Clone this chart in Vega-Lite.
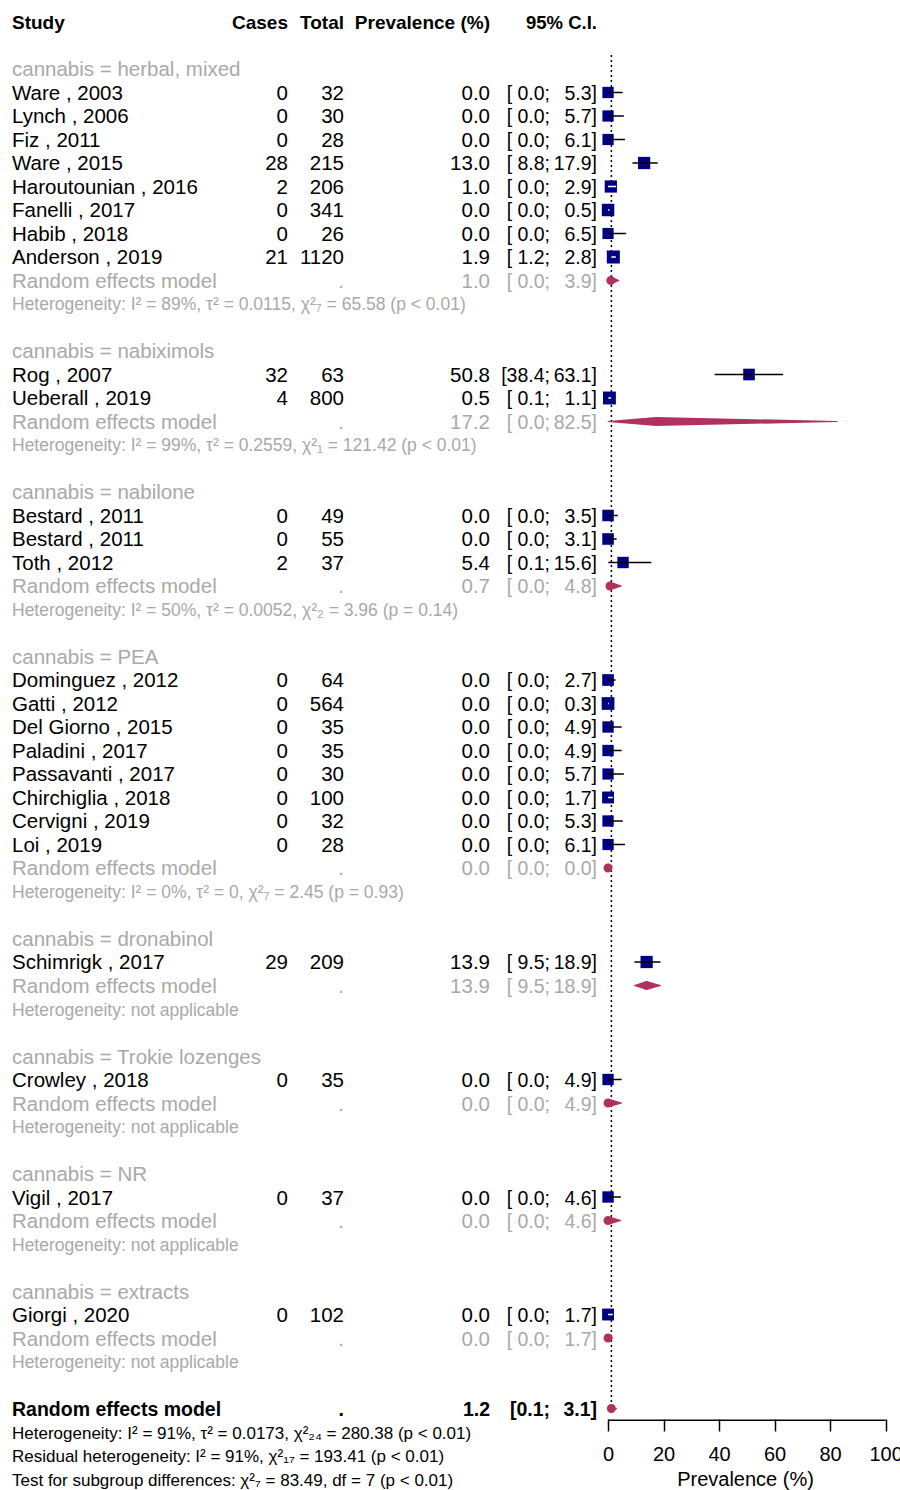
{
  "$schema": "https://vega.github.io/schema/vega-lite/v6.json",
  "width": 900,
  "height": 1490,
  "autosize": "none",
  "padding": 0,
  "background": "white",
  "config": {"view": {"stroke": null}, "font": "Liberation Sans"},
  "datasets": {
    "rows": [
      {"row": 2, "type": "group", "label": "cannabis = herbal, mixed"},
      {"row": 3, "type": "study", "label": "Ware , 2003", "cases": 0, "total": 32, "prev": 0.0, "lo": 0.0, "hi": 5.3, "cil": "[ 0.0;", "ciu": "5.3]"},
      {"row": 4, "type": "study", "label": "Lynch , 2006", "cases": 0, "total": 30, "prev": 0.0, "lo": 0.0, "hi": 5.7, "cil": "[ 0.0;", "ciu": "5.7]"},
      {"row": 5, "type": "study", "label": "Fiz , 2011", "cases": 0, "total": 28, "prev": 0.0, "lo": 0.0, "hi": 6.1, "cil": "[ 0.0;", "ciu": "6.1]"},
      {"row": 6, "type": "study", "label": "Ware , 2015", "cases": 28, "total": 215, "prev": 13.0, "lo": 8.8, "hi": 17.9, "cil": "[ 8.8;", "ciu": "17.9]"},
      {"row": 7, "type": "study", "label": "Haroutounian , 2016", "cases": 2, "total": 206, "prev": 1.0, "lo": 0.0, "hi": 2.9, "cil": "[ 0.0;", "ciu": "2.9]"},
      {"row": 8, "type": "study", "label": "Fanelli , 2017", "cases": 0, "total": 341, "prev": 0.0, "lo": 0.0, "hi": 0.5, "cil": "[ 0.0;", "ciu": "0.5]"},
      {"row": 9, "type": "study", "label": "Habib , 2018", "cases": 0, "total": 26, "prev": 0.0, "lo": 0.0, "hi": 6.5, "cil": "[ 0.0;", "ciu": "6.5]"},
      {"row": 10, "type": "study", "label": "Anderson , 2019", "cases": 21, "total": 1120, "prev": 1.9, "lo": 1.2, "hi": 2.8, "cil": "[ 1.2;", "ciu": "2.8]"},
      {"row": 11, "type": "model", "label": "Random effects model", "total": ".", "prev": 1.0, "lo": 0.0, "hi": 3.9, "cil": "[ 0.0;", "ciu": "3.9]"},
      {"row": 12, "type": "het", "label": "Heterogeneity: I² = 89%, τ² = 0.0115, χ²₇ = 65.58 (p < 0.01)"},
      {"row": 14, "type": "group", "label": "cannabis = nabiximols"},
      {"row": 15, "type": "study", "label": "Rog , 2007", "cases": 32, "total": 63, "prev": 50.8, "lo": 38.4, "hi": 63.1, "cil": "[38.4;", "ciu": "63.1]"},
      {"row": 16, "type": "study", "label": "Ueberall , 2019", "cases": 4, "total": 800, "prev": 0.5, "lo": 0.1, "hi": 1.1, "cil": "[ 0.1;", "ciu": "1.1]"},
      {"row": 17, "type": "model", "label": "Random effects model", "total": ".", "prev": 17.2, "lo": 0.0, "hi": 82.5, "cil": "[ 0.0;", "ciu": "82.5]"},
      {"row": 18, "type": "het", "label": "Heterogeneity: I² = 99%, τ² = 0.2559, χ²₁ = 121.42 (p < 0.01)"},
      {"row": 20, "type": "group", "label": "cannabis = nabilone"},
      {"row": 21, "type": "study", "label": "Bestard , 2011", "cases": 0, "total": 49, "prev": 0.0, "lo": 0.0, "hi": 3.5, "cil": "[ 0.0;", "ciu": "3.5]"},
      {"row": 22, "type": "study", "label": "Bestard , 2011", "cases": 0, "total": 55, "prev": 0.0, "lo": 0.0, "hi": 3.1, "cil": "[ 0.0;", "ciu": "3.1]"},
      {"row": 23, "type": "study", "label": "Toth , 2012", "cases": 2, "total": 37, "prev": 5.4, "lo": 0.1, "hi": 15.6, "cil": "[ 0.1;", "ciu": "15.6]"},
      {"row": 24, "type": "model", "label": "Random effects model", "total": ".", "prev": 0.7, "lo": 0.0, "hi": 4.8, "cil": "[ 0.0;", "ciu": "4.8]"},
      {"row": 25, "type": "het", "label": "Heterogeneity: I² = 50%, τ² = 0.0052, χ²₂ = 3.96 (p = 0.14)"},
      {"row": 27, "type": "group", "label": "cannabis = PEA"},
      {"row": 28, "type": "study", "label": "Dominguez , 2012", "cases": 0, "total": 64, "prev": 0.0, "lo": 0.0, "hi": 2.7, "cil": "[ 0.0;", "ciu": "2.7]"},
      {"row": 29, "type": "study", "label": "Gatti , 2012", "cases": 0, "total": 564, "prev": 0.0, "lo": 0.0, "hi": 0.3, "cil": "[ 0.0;", "ciu": "0.3]"},
      {"row": 30, "type": "study", "label": "Del Giorno , 2015", "cases": 0, "total": 35, "prev": 0.0, "lo": 0.0, "hi": 4.9, "cil": "[ 0.0;", "ciu": "4.9]"},
      {"row": 31, "type": "study", "label": "Paladini , 2017", "cases": 0, "total": 35, "prev": 0.0, "lo": 0.0, "hi": 4.9, "cil": "[ 0.0;", "ciu": "4.9]"},
      {"row": 32, "type": "study", "label": "Passavanti , 2017", "cases": 0, "total": 30, "prev": 0.0, "lo": 0.0, "hi": 5.7, "cil": "[ 0.0;", "ciu": "5.7]"},
      {"row": 33, "type": "study", "label": "Chirchiglia , 2018", "cases": 0, "total": 100, "prev": 0.0, "lo": 0.0, "hi": 1.7, "cil": "[ 0.0;", "ciu": "1.7]"},
      {"row": 34, "type": "study", "label": "Cervigni , 2019", "cases": 0, "total": 32, "prev": 0.0, "lo": 0.0, "hi": 5.3, "cil": "[ 0.0;", "ciu": "5.3]"},
      {"row": 35, "type": "study", "label": "Loi , 2019", "cases": 0, "total": 28, "prev": 0.0, "lo": 0.0, "hi": 6.1, "cil": "[ 0.0;", "ciu": "6.1]"},
      {"row": 36, "type": "model", "label": "Random effects model", "total": ".", "prev": 0.0, "lo": 0.0, "hi": 0.0, "cil": "[ 0.0;", "ciu": "0.0]"},
      {"row": 37, "type": "het", "label": "Heterogeneity: I² = 0%, τ² = 0, χ²₇ = 2.45 (p = 0.93)"},
      {"row": 39, "type": "group", "label": "cannabis = dronabinol"},
      {"row": 40, "type": "study", "label": "Schimrigk , 2017", "cases": 29, "total": 209, "prev": 13.9, "lo": 9.5, "hi": 18.9, "cil": "[ 9.5;", "ciu": "18.9]"},
      {"row": 41, "type": "model", "label": "Random effects model", "total": ".", "prev": 13.9, "lo": 9.5, "hi": 18.9, "cil": "[ 9.5;", "ciu": "18.9]"},
      {"row": 42, "type": "het", "label": "Heterogeneity: not applicable"},
      {"row": 44, "type": "group", "label": "cannabis = Trokie lozenges"},
      {"row": 45, "type": "study", "label": "Crowley , 2018", "cases": 0, "total": 35, "prev": 0.0, "lo": 0.0, "hi": 4.9, "cil": "[ 0.0;", "ciu": "4.9]"},
      {"row": 46, "type": "model", "label": "Random effects model", "total": ".", "prev": 0.0, "lo": 0.0, "hi": 4.9, "cil": "[ 0.0;", "ciu": "4.9]"},
      {"row": 47, "type": "het", "label": "Heterogeneity: not applicable"},
      {"row": 49, "type": "group", "label": "cannabis = NR"},
      {"row": 50, "type": "study", "label": "Vigil , 2017", "cases": 0, "total": 37, "prev": 0.0, "lo": 0.0, "hi": 4.6, "cil": "[ 0.0;", "ciu": "4.6]"},
      {"row": 51, "type": "model", "label": "Random effects model", "total": ".", "prev": 0.0, "lo": 0.0, "hi": 4.6, "cil": "[ 0.0;", "ciu": "4.6]"},
      {"row": 52, "type": "het", "label": "Heterogeneity: not applicable"},
      {"row": 54, "type": "group", "label": "cannabis = extracts"},
      {"row": 55, "type": "study", "label": "Giorgi , 2020", "cases": 0, "total": 102, "prev": 0.0, "lo": 0.0, "hi": 1.7, "cil": "[ 0.0;", "ciu": "1.7]"},
      {"row": 56, "type": "model", "label": "Random effects model", "total": ".", "prev": 0.0, "lo": 0.0, "hi": 1.7, "cil": "[ 0.0;", "ciu": "1.7]"},
      {"row": 57, "type": "het", "label": "Heterogeneity: not applicable"},
      {"row": 59, "type": "overall", "label": "Random effects model", "total": ".", "prev": 1.2, "lo": 0.1, "hi": 3.1, "cil": "[0.1;", "ciu": "3.1]"},
      {"row": 60, "type": "foot", "label": "Heterogeneity: I² = 91%, τ² = 0.0173, χ²₂₄ = 280.38 (p < 0.01)"},
      {"row": 61, "type": "foot", "label": "Residual heterogeneity: I² = 91%, χ²₁₇ = 193.41 (p < 0.01)"},
      {"row": 62, "type": "foot", "label": "Test for subgroup differences: χ²₇ = 83.49, df = 7 (p < 0.01)"}
    ],
    "header": [
      {"row": 0, "col": "study", "t": "Study"},
      {"row": 0, "col": "cases", "t": "Cases"},
      {"row": 0, "col": "total", "t": "Total"},
      {"row": 0, "col": "prev", "t": "Prevalence (%)"},
      {"row": 0, "col": "ci", "t": "95% C.I."}
    ],
    "axisline": [{"from": 0, "to": 100, "row": 59.5}]
  },
  "data": {"name": "rows"},
  "encoding": {
    "y": {"field": "row", "type": "quantitative", "scale": {"domain": [-0.936, 62.468], "reverse": true, "nice": false, "zero": false}, "axis": null}
  },
  "layer": [
    {
      "transform": [{"filter": "datum.type === 'overall'"}],
      "mark": {"type": "rule", "strokeDash": [2, 3], "strokeWidth": 1.5, "color": "black"},
      "encoding": {
        "x": {"field": "prev", "type": "quantitative", "scale": {"domain": [-219.1, 105.2], "nice": false, "zero": false},
          "axis": {"orient": "bottom", "offset": -71, "values": [0, 20, 40, 60, 80, 100], "format": "d", "domain": false, "grid": false,
            "tickSize": 12, "tickColor": "black", "tickWidth": 1.5, "labelFontSize": 20, "labelColor": "black", "labelPadding": 13,
            "labelFlush": false, "labelOverlap": false, "labelFont": "Liberation Sans",
            "title": "Prevalence (%)", "titleFontSize": 20, "titleFontWeight": "normal", "titleColor": "black", "titleFont": "Liberation Sans",
            "titleX": 745, "titleY": 66, "titleBaseline": "alphabetic", "titleAlign": "center"}},
        "y": {"datum": 1.4},
        "y2": {"field": "row"}
      }
    },
    {
      "data": {"name": "axisline"},
      "mark": {"type": "rule", "color": "black", "strokeWidth": 1.5},
      "encoding": {
        "x": {"field": "from", "type": "quantitative"},
        "x2": {"field": "to"},
        "y": {"field": "row", "type": "quantitative"}
      }
    },
    {
      "transform": [
        {"filter": "datum.type === 'model' || datum.type === 'overall'"},
        {"fold": ["lo", "prev", "hi"], "as": ["k", "v"]}
      ],
      "mark": {"type": "trail", "color": "#B03060"},
      "encoding": {
        "x": {"field": "v", "type": "quantitative"},
        "size": {"field": "k", "type": "ordinal", "scale": {"type": "ordinal", "domain": ["lo", "prev", "hi"], "range": [0, 9, 0]}, "legend": null},
        "detail": {"field": "row", "type": "nominal"}
      }
    },
    {
      "transform": [{"filter": "datum.type === 'study'"}],
      "mark": {"type": "point", "shape": "square", "filled": true, "color": "#000080", "opacity": 1},
      "encoding": {
        "x": {"field": "prev", "type": "quantitative"},
        "size": {"field": "total", "type": "quantitative", "scale": {"type": "log", "domain": [26, 1120], "range": [125, 170]}, "legend": null}
      }
    },
    {
      "transform": [{"filter": "datum.type === 'study'"}],
      "mark": {"type": "rule", "strokeWidth": 1.5},
      "encoding": {
        "x": {"field": "lo", "type": "quantitative"},
        "x2": {"field": "hi"},
        "color": {"condition": {"test": "datum.hi - datum.prev < 2.2 && datum.prev - datum.lo < 2.2", "value": "white"}, "value": "black"}
      }
    },
    {
      "transform": [{"filter": "datum.type === 'study' || datum.type === 'group' || datum.type === 'model'"}],
      "mark": {"type": "text", "align": "left", "baseline": "middle", "dy": 1.5, "fontSize": 20.5, "x": 12},
      "encoding": {
        "text": {"field": "label", "type": "nominal"},
        "color": {"field": "type", "type": "nominal", "scale": {"domain": ["study", "group", "model", "het", "overall", "foot"], "range": ["#000000", "#A9A9A9", "#A9A9A9", "#A9A9A9", "#000000", "#000000"]}, "legend": null}
      }
    },
    {
      "transform": [{"filter": "datum.type === 'study'"}],
      "mark": {"type": "text", "align": "right", "baseline": "middle", "dy": 1.5, "fontSize": 20.5, "x": 288, "color": "black"},
      "encoding": {"text": {"field": "cases", "type": "nominal"}}
    },
    {
      "transform": [{"filter": "datum.type === 'study' || datum.type === 'model'"}],
      "mark": {"type": "text", "align": "right", "baseline": "middle", "dy": 1.5, "fontSize": 20.5, "x": 344},
      "encoding": {
        "text": {"field": "total", "type": "nominal"},
        "color": {"field": "type", "type": "nominal", "legend": null}
      }
    },
    {
      "transform": [{"filter": "datum.type === 'study' || datum.type === 'model'"}],
      "mark": {"type": "text", "align": "right", "baseline": "middle", "dy": 1.5, "fontSize": 20.5, "x": 490},
      "encoding": {
        "text": {"field": "prev", "type": "quantitative", "format": ".1f"},
        "color": {"field": "type", "type": "nominal", "legend": null}
      }
    },
    {
      "transform": [{"filter": "datum.type === 'study' || datum.type === 'model'"}],
      "mark": {"type": "text", "align": "right", "baseline": "middle", "dy": 1.5, "fontSize": 19.5, "x": 550},
      "encoding": {
        "text": {"field": "cil", "type": "nominal"},
        "color": {"field": "type", "type": "nominal", "legend": null}
      }
    },
    {
      "transform": [{"filter": "datum.type === 'study' || datum.type === 'model'"}],
      "mark": {"type": "text", "align": "right", "baseline": "middle", "dy": 1.5, "fontSize": 19.5, "x": 597},
      "encoding": {
        "text": {"field": "ciu", "type": "nominal"},
        "color": {"field": "type", "type": "nominal", "legend": null}
      }
    },
    {
      "transform": [{"filter": "datum.type === 'het'"}],
      "mark": {"type": "text", "align": "left", "baseline": "middle", "dy": 1.5, "fontSize": 17.5, "x": 12},
      "encoding": {
        "text": {"field": "label", "type": "nominal"},
        "color": {"field": "type", "type": "nominal", "legend": null}
      }
    },
    {
      "transform": [{"filter": "datum.type === 'foot'"}],
      "mark": {"type": "text", "align": "left", "baseline": "middle", "dy": 1.5, "fontSize": 17, "x": 12},
      "encoding": {
        "text": {"field": "label", "type": "nominal"},
        "color": {"field": "type", "type": "nominal", "legend": null}
      }
    },
    {
      "transform": [{"filter": "datum.type === 'overall'"}],
      "mark": {"type": "text", "align": "left", "baseline": "middle", "dy": 1.5, "fontSize": 19.5, "fontWeight": "bold", "x": 12, "color": "black"},
      "encoding": {"text": {"field": "label", "type": "nominal"}}
    },
    {
      "transform": [{"filter": "datum.type === 'overall'"}],
      "mark": {"type": "text", "align": "right", "baseline": "middle", "dy": 1.5, "fontSize": 19.5, "fontWeight": "bold", "x": 344, "color": "black"},
      "encoding": {"text": {"field": "total", "type": "nominal"}}
    },
    {
      "transform": [{"filter": "datum.type === 'overall'"}],
      "mark": {"type": "text", "align": "right", "baseline": "middle", "dy": 1.5, "fontSize": 19.5, "fontWeight": "bold", "x": 490, "color": "black"},
      "encoding": {"text": {"field": "prev", "type": "quantitative", "format": ".1f"}}
    },
    {
      "transform": [{"filter": "datum.type === 'overall'"}],
      "mark": {"type": "text", "align": "right", "baseline": "middle", "dy": 1.5, "fontSize": 19.5, "fontWeight": "bold", "x": 550, "color": "black"},
      "encoding": {"text": {"field": "cil", "type": "nominal"}}
    },
    {
      "transform": [{"filter": "datum.type === 'overall'"}],
      "mark": {"type": "text", "align": "right", "baseline": "middle", "dy": 1.5, "fontSize": 19.5, "fontWeight": "bold", "x": 597, "color": "black"},
      "encoding": {"text": {"field": "ciu", "type": "nominal"}}
    },
    {
      "data": {"name": "header"},
      "transform": [{"filter": "datum.col === 'study'"}],
      "mark": {"type": "text", "align": "left", "baseline": "middle", "dy": 1.5, "fontSize": 19, "fontWeight": "bold", "x": 12, "color": "black"},
      "encoding": {"text": {"field": "t", "type": "nominal"}}
    },
    {
      "data": {"name": "header"},
      "transform": [{"filter": "datum.col === 'cases'"}],
      "mark": {"type": "text", "align": "right", "baseline": "middle", "dy": 1.5, "fontSize": 19, "fontWeight": "bold", "x": 288, "color": "black"},
      "encoding": {"text": {"field": "t", "type": "nominal"}}
    },
    {
      "data": {"name": "header"},
      "transform": [{"filter": "datum.col === 'total'"}],
      "mark": {"type": "text", "align": "right", "baseline": "middle", "dy": 1.5, "fontSize": 19, "fontWeight": "bold", "x": 344, "color": "black"},
      "encoding": {"text": {"field": "t", "type": "nominal"}}
    },
    {
      "data": {"name": "header"},
      "transform": [{"filter": "datum.col === 'prev'"}],
      "mark": {"type": "text", "align": "right", "baseline": "middle", "dy": 1.5, "fontSize": 19, "fontWeight": "bold", "x": 490, "color": "black"},
      "encoding": {"text": {"field": "t", "type": "nominal"}}
    },
    {
      "data": {"name": "header"},
      "transform": [{"filter": "datum.col === 'ci'"}],
      "mark": {"type": "text", "align": "right", "baseline": "middle", "dy": 1.5, "fontSize": 18.5, "fontWeight": "bold", "x": 597, "color": "black"},
      "encoding": {"text": {"field": "t", "type": "nominal"}}
    }
  ],
  "resolve": {"scale": {"size": "independent"}}
}
